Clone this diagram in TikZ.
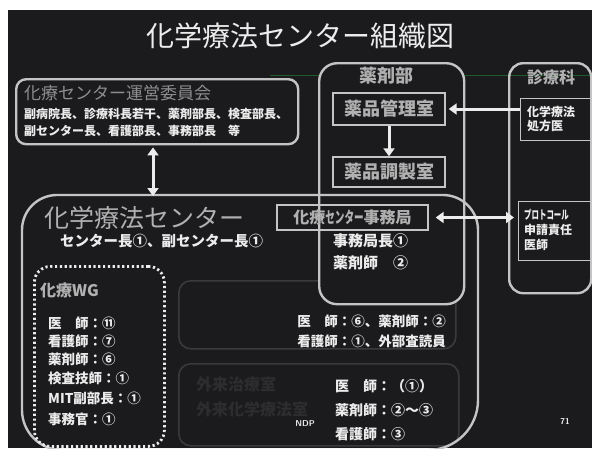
\documentclass[tikz,border=0pt]{standalone}
\usepackage{fontspec}
\usepackage{graphicx}
\setmainfont{Noto Sans CJK JP}
\usetikzlibrary{arrows.meta,calc}
\definecolor{bg}{HTML}{1B1B1E}
\definecolor{edge}{HTML}{C4C4C4}
\definecolor{txt}{HTML}{ECECEC}
\definecolor{dim}{HTML}{B0B0B0}
\definecolor{dimmer}{HTML}{8E8E8E}
\definecolor{faint}{HTML}{3A3A3D}
\definecolor{fainttext}{HTML}{2D2D30}
\definecolor{scan}{HTML}{1F5A2A}
\tikzset{
  x=1pt, y=-1pt,
  box/.style={draw=edge, line width=2.4pt, rounded corners=#1},
  box/.default=14pt,
  subbox/.style={draw=edge, line width=1.4pt, inner sep=0pt},
  faintbox/.style={draw=faint, line width=1.6pt, rounded corners=12pt},
  wtext/.style={text=txt, font=\bfseries\fontsize{#1}{#1}\selectfont, inner sep=0pt},
  wtext/.default=13,
  gtext/.style={text=dim, font=\bfseries\fontsize{#1}{#1}\selectfont, inner sep=0pt},
  ltext/.style={text=dimmer, font=\fontsize{#1}{#1}\selectfont, inner sep=0pt},
  ftext/.style={text=fainttext, font=\bfseries\fontsize{#1}{#1}\selectfont, inner sep=0pt},
  fatarrow/.style={draw=txt, line width=3pt, -{Triangle[width=11pt,length=8pt]}},
  fatboth/.style={draw=txt, line width=3pt, {Triangle[width=11pt,length=8pt]}-{Triangle[width=11pt,length=8pt]}},
}
\begin{document}
\begin{tikzpicture}
\useasboundingbox (0,0) rectangle (592,448);
\fill[white] (0,0) rectangle (592,448);
\fill[bg] (8,10) rectangle (592,448);
\draw[scan, line width=0.8pt] (270,75) -- (592,75);

% title
\node[text=txt, font=\fontsize{28}{28}\selectfont, inner sep=0pt] (title) at (300,36) {化学療法センター組織図};

% committee
\node[box=10pt, minimum width=282pt, minimum height=65pt, anchor=north west] (comm) at (15,78) {};
\node[ltext=17, anchor=west] (commt) at (24,93) {化療センター運営委員会};
\node[wtext=12, anchor=west] (comm1) at (24,114) {副病院長、診療科長若干、薬剤部長、検査部長、};
\node[wtext=12, anchor=west] (comm2) at (24,131) {副センター長、看護部長、事務部長　等};

% faint boxes inside center
\node[faintbox, minimum width=277pt, minimum height=68pt, anchor=north west] (revbox) at (178,280) {};
\node[faintbox, minimum width=280pt, minimum height=82pt, anchor=north west] (outbox) at (178,363) {};
\node[ftext=16, anchor=west] (out1) at (196,384) {外来治療室};
\node[ftext=16, anchor=west] (out2) at (196,409) {外来化学療法室};

% pharmacy department
\node[box=18pt, fill=bg, minimum width=145pt, minimum height=241pt, anchor=north west] (pharm) at (318,62) {};
\node[gtext=18] (pharmt) at (386,76) {薬剤部};
\node[subbox, minimum width=112pt, minimum height=32pt, text=dim, font=\bfseries\fontsize{18}{18}\selectfont] (kanri) at (389,109) {薬品管理室};
\node[subbox, minimum width=112pt, minimum height=30pt, text=dim, font=\bfseries\fontsize{18}{18}\selectfont] (chosei) at (389,172) {薬品調製室};

% clinical department
\node[box=14pt, minimum width=82pt, minimum height=230pt, anchor=north west] (clin) at (508,62) {};
\node[gtext=16] (clint) at (551,77) {診療科};
\node[subbox, minimum width=74pt, minimum height=42pt, anchor=north west] (shoho) at (520,98) {};
\node[wtext=12, align=left, anchor=west] (shohot) at (527,119) {化学療法\\[2pt]処方医};
\node[subbox, minimum width=74pt, minimum height=59pt, anchor=north west] (proto) at (518,201) {};
\node[wtext=12, align=left, anchor=west] (protot) at (524,230) {\scalebox{0.62}[1]{プロトコール}\\[3pt]申請責任\\[3pt]医師};

% center
\node[minimum width=456pt, minimum height=255pt, anchor=north west, inner sep=0pt] (cent) at (22,195) {};
\draw[edge, line width=2.4pt] (57,195) -- (443,195) arc[start angle=-90, end angle=0, radius=35]
  -- (478,400) arc[start angle=0, end angle=90, radius=50]
  -- (62,450) arc[start angle=90, end angle=180, radius=40]
  -- (22,230) arc[start angle=180, end angle=270, radius=35] -- cycle;
\node[ltext=25, text=dim, anchor=west] (centt) at (44,218) {化学療法センター};
\node[wtext=14.5, anchor=west] (cent2) at (60,241) {センター長①、副センター長①};
\node[subbox, minimum width=151pt, minimum height=25pt, text=dim, font=\bfseries\fontsize{16}{16}\selectfont] (jimu) at (352.5,217.5) {化療\scalebox{0.6}[1]{センター}事務局};
\node[wtext=15, anchor=west] (jimu1) at (333,241) {事務局長①};
\node[wtext=15, anchor=west] (jimu2) at (333,263) {薬剤師　②};

% WG
\node[draw=txt, line width=2.8pt, dash pattern=on 2.2pt off 2.6pt, rounded corners=16pt, minimum width=130pt, minimum height=180pt, anchor=north west] (wg) at (33,265) {};
\node[gtext=16, anchor=west] (wgt) at (40,290) {化療WG};
\node[wtext=13.5, anchor=west] (wg1) at (48,323) {医　師：⑪};
\node[wtext=13.5, anchor=west] (wg2) at (48,341) {看護師：⑦};
\node[wtext=13.5, anchor=west] (wg3) at (48,359) {薬剤師：⑥};
\node[wtext=13.5, anchor=west] (wg4) at (48,378) {検査技師：①};
\node[wtext=13.5, anchor=west] (wg5) at (48,398) {MIT副部長：①};
\node[wtext=13.5, anchor=west] (wg6) at (48,419) {事務官：①};

% review
\node[wtext=13.5, anchor=east] (rev1) at (446,321) {医　師：⑥、薬剤師：②};
\node[wtext=13.5, anchor=east] (rev2) at (446,341) {看護師：①、外部査読員};

% outpatient
\node[wtext=14, anchor=west] (o1) at (335,386) {医　師：（①）};
\node[wtext=14, anchor=west] (o2) at (335,410) {薬剤師：②〜③};
\node[wtext=14, anchor=west] (o3) at (335,434) {看護師：③};
\node[text=txt, font=\bfseries\sffamily\fontsize{8.5}{8.5}\selectfont, inner sep=0pt] (ndp) at (305,424) {NDP};
\node[text=txt, font=\bfseries\sffamily\fontsize{8.5}{8.5}\selectfont, inner sep=0pt] (pg) at (565,421) {71};

% connectors
\coordinate (ax) at (153,0);
\draw[fatboth] (comm.south -| ax) ++(0,2) -- ($(cent.north -| ax)+(0,1)$);
\draw[fatarrow] (shoho.west |- kanri.east) -- ($(kanri.east)+(3,0)$);
\draw[fatarrow] (kanri.south) -- (chosei.north);
\draw[fatboth, shorten <=7pt, shorten >=4pt] (jimu.east) -- (proto.west |- jimu.east);
\end{tikzpicture}
\end{document}
